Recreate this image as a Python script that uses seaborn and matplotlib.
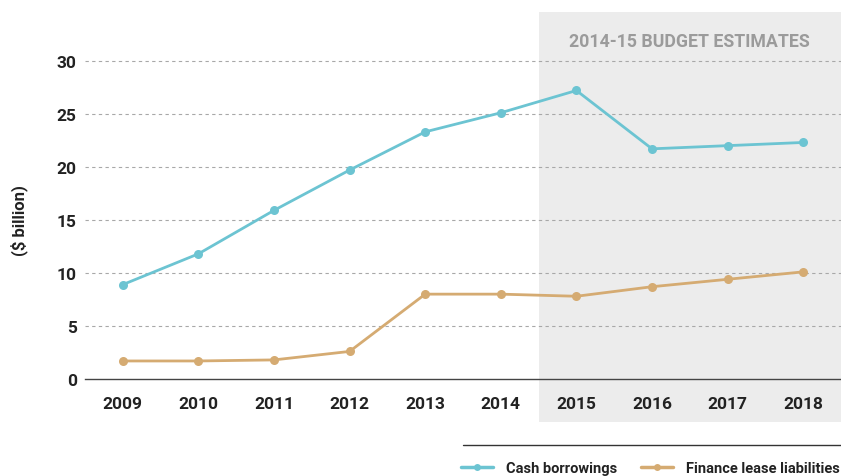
import numpy as np
import pandas as pd
import matplotlib.pyplot as plt
import matplotlib.transforms as mtransforms
from matplotlib.patches import Rectangle
from matplotlib.lines import Line2D
import seaborn as sns

years = [2009, 2010, 2011, 2012, 2013, 2014, 2015, 2016, 2017, 2018]
cash_borrowings = [8.9, 11.8, 15.9, 19.7, 23.3, 25.1, 27.2, 21.7, 22.0, 22.3]
finance_lease = [1.7, 1.7, 1.8, 2.6, 8.0, 8.0, 7.8, 8.7, 9.4, 10.1]
series_names = ["Cash borrowings", "Finance lease liabilities"]
colors = ["#6cc4d2", "#d5ab72"]

df = pd.DataFrame({
    "year": years * 2,
    "value": cash_borrowings + finance_lease,
    "series": [series_names[0]] * len(years) + [series_names[1]] * len(years),
})

sns.set_style("white")
plt.rcParams['font.family'] = ['Roboto', 'DejaVu Sans']

fig = plt.figure(figsize=(8.41, 4.77), dpi=100)
ax = fig.add_axes([85 / 841, 1 - 380 / 477, 1 - 85 / 841, (380 - 13) / 477])

# shaded budget estimates region (runs down over the tick labels)
trans = mtransforms.blended_transform_factory(ax.transData, fig.transFigure)
ax.add_patch(Rectangle((2014.5, 1 - 423 / 477), 4.0, (423 - 13) / 477, transform=trans,
                       facecolor="#ececec", edgecolor="none", clip_on=False, zorder=0))

sns.lineplot(data=df, x="year", y="value", hue="series", palette=colors, marker="o",
             markersize=6.5, markeredgewidth=0, linewidth=2, ax=ax, legend=False, zorder=3)

ax.set_xlim(2008.5, 2018.5)
ax.set_ylim(0, 34.6)
ax.set_xticks(years)
ax.set_yticks([0, 5, 10, 15, 20, 25, 30])
for yv in [5, 10, 15, 20, 25, 30]:
    ax.axhline(yv, color="#a8a8a8", lw=0.8, ls=(0, (3, 3)), zorder=1)
ax.patch.set_visible(False)

for s in ["top", "right", "left"]:
    ax.spines[s].set_visible(False)
ax.spines["bottom"].set_color("#444444")
ax.spines["bottom"].set_linewidth(1)
ax.tick_params(axis="x", length=6, color="#444444", width=1, labelsize=12.5, labelcolor="#222222", pad=6)
ax.tick_params(axis="y", length=0, labelsize=12.5, labelcolor="#222222", pad=6)
for lab in ax.get_xticklabels() + ax.get_yticklabels():
    lab.set_fontweight("bold")
ax.set_xlabel("")
ax.set_ylabel("($ billion)", fontsize=12, color="#222222", fontweight="bold")
ax.yaxis.set_label_coords(-0.076, (380 - 221) / 367)

ax.text(2016.5, 31.9, "2014-15 BUDGET ESTIMATES", ha="center", va="center",
        fontsize=12.8, color="#9b9b9b", fontweight="bold", zorder=4)

# legend with a rule above it
fig.add_artist(Line2D([463 / 841, 1.0], [1 - 446 / 477] * 2, color="#333333", lw=1,
                      transform=fig.transFigure))
handles = [Line2D([], [], color=c, lw=2.5, marker="o", markersize=5, markeredgewidth=0) for c in colors]
leg = fig.legend(handles, series_names, loc="center left", bbox_to_anchor=(455 / 841, 1 - 469 / 477),
                 ncol=2, frameon=False, fontsize=10.5, handlelength=2.2, handletextpad=0.9,
                 columnspacing=1.6, borderaxespad=0)
for t in leg.get_texts():
    t.set_fontweight("bold")
    t.set_color("#222222")

fig.savefig("out.png", dpi=100)
